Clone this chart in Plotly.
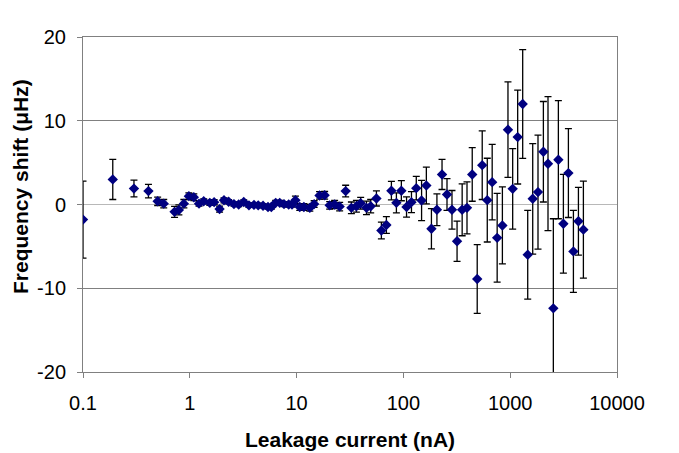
import plotly.graph_objects as go

# Leakage current (nA)
current = [0.1, 0.19, 0.30, 0.41, 0.50, 0.57, 0.72, 0.79, 0.88, 0.98,
           1.09, 1.22, 1.35, 1.54, 1.69, 1.90, 2.09, 2.31, 2.59, 2.87,
           3.20, 3.58, 3.99, 4.37, 4.85, 5.40, 5.80, 6.37, 6.95, 7.62,
           8.43, 9.06, 9.75, 10.7, 11.7, 13.3, 14.6, 16.4, 18.3, 20.4,
           22.7, 25.3, 28.8, 32.6, 36.3, 39.8, 45.1, 49.4, 55.9, 62.2,
           69.3, 77.2, 86.0, 95.7, 107, 119, 132, 148, 164, 183,
           206, 230, 256, 285, 318, 355, 394, 441, 491, 547,
           610, 678, 755, 845, 953, 1055, 1175, 1309, 1459, 1625,
           1821, 2045, 2259, 2535, 2825, 3148, 3507, 3907, 4354, 4845]

# Frequency shift (uHz)
shift = [-1.8, 3.0, 1.9, 1.6, 0.38, 0.1, -0.88, -0.65, 0.1, 1.0,
         0.87, 0.1, 0.38, 0.2, 0.28, -0.55, 0.5, 0.33, 0.05, 0.0,
         0.3, -0.1, -0.05, -0.1, -0.15, -0.3, -0.3, 0.2, 0.2, 0.05,
         0.0, 0.0, 0.5, -0.3, -0.3, -0.4, 0.05, 1.08, 1.1, -0.1,
         0.0, -0.25, 1.6, -0.4, -0.2, 0.15, -0.4, -0.2, 0.72, -3.1,
         -2.45, 1.65, 0.2, 1.65, -0.3, 0.28, 1.95, 0.48, 2.27, -2.9,
         -0.63, 3.59, 1.2, -0.63, -4.39, -0.63, -0.4, 3.59, -8.9, 4.7,
         0.52, 2.67, -3.98, -2.5, 8.93, 1.87, 8.05, 12.0, -6.0, 0.68,
         1.48, 6.3, 4.87, -12.4, 5.35, -2.3, 3.75, -5.6, -2.0, -3.0]

# Error (uHz)
error = [4.6, 2.4, 1.0, 0.8, 0.5, 0.5, 0.65, 0.6, 0.5, 0.4,
         0.4, 0.3, 0.3, 0.3, 0.3, 0.35, 0.3, 0.25, 0.25, 0.25,
         0.25, 0.25, 0.25, 0.25, 0.25, 0.25, 0.25, 0.3, 0.3, 0.3,
         0.3, 0.3, 0.5, 0.4, 0.4, 0.4, 0.4, 0.45, 0.45, 0.45,
         0.5, 0.5, 0.7, 0.7, 0.7, 0.7, 0.8, 0.8, 0.9, 1.0,
         1.0, 1.1, 1.2, 1.2, 1.2, 1.25, 1.4, 2.4, 2.2, 2.4,
         1.9, 1.8, 1.9, 2.3, 2.4, 3.1, 3.1, 3.2, 4.1, 4.1,
         5.0, 4.5, 5.3, 4.6, 5.7, 4.8, 5.6, 6.5, 5.3, 6.6,
         6.8, 6.0, 8.0, 10.7, 7.05, 5.9, 5.3, 4.9, 4.05, 5.8]

x_tickvals = [0.1, 1, 10, 100, 1000, 10000]
x_ticktext = ["0.1", "1", "10", "100", "1000", "10000"]
y_tickvals = [-20, -10, 0, 10, 20]
y_ticktext = ["-20", "-10", "0", "10", "20"]

FONT = "Arial, Liberation Sans, sans-serif"

# page body has an 8px default margin, so the figure is sized to fit inside it
W, H = 671, 445
ML, MR, MT, MB = 75, 62, 29, 81
PW, PH = W - ML - MR, H - MT - MB

fig = go.Figure()
fig.add_trace(go.Scatter(
    x=current, y=shift, mode="markers",
    marker=dict(symbol="diamond", size=8, color="#000080"),
    error_y=dict(type="data", array=error, visible=True,
                 color="black", thickness=1.3, width=3.5),
    showlegend=False, cliponaxis=True,
))

fig.update_layout(
    width=W, height=H,
    margin=dict(l=ML, r=MR, t=MT, b=MB),
    paper_bgcolor="white", plot_bgcolor="white",
    font=dict(family=FONT, color="black", size=20),
    xaxis=dict(type="log", range=[-1, 4], tickvals=x_tickvals, ticktext=x_ticktext,
               showgrid=False, zeroline=False,
               showline=True, linecolor="#808080", linewidth=1, mirror=True,
               ticks="outside", ticklen=5, tickcolor="#808080",
               tickfont=dict(size=20), ticklabelstandoff=8),
    yaxis=dict(range=[-20, 20], tickvals=y_tickvals, ticktext=y_ticktext,
               showgrid=True, gridcolor="#808080", gridwidth=1,
               zeroline=True, zerolinecolor="#b8b8b8", zerolinewidth=1,
               showline=True, linecolor="#808080", linewidth=1, mirror=True,
               ticks="outside", ticklen=5, tickcolor="#808080",
               tickfont=dict(size=20), ticklabelstandoff=7),
    annotations=[
        dict(text="<b>Leakage current (nA)</b>", xref="paper", yref="paper",
             x=0.5, y=-68 / PH, xanchor="center", yanchor="middle",
             showarrow=False, font=dict(size=21, family=FONT)),
        dict(text="<b>Frequency shift (\u03bcHz)</b>", xref="paper", yref="paper",
             x=(12 - ML) / PW, y=(MT + PH - 179) / PH, xanchor="center", yanchor="middle",
             textangle=-90, showarrow=False, font=dict(size=21, family=FONT)),
    ],
)

fig.write_html("out.html")
